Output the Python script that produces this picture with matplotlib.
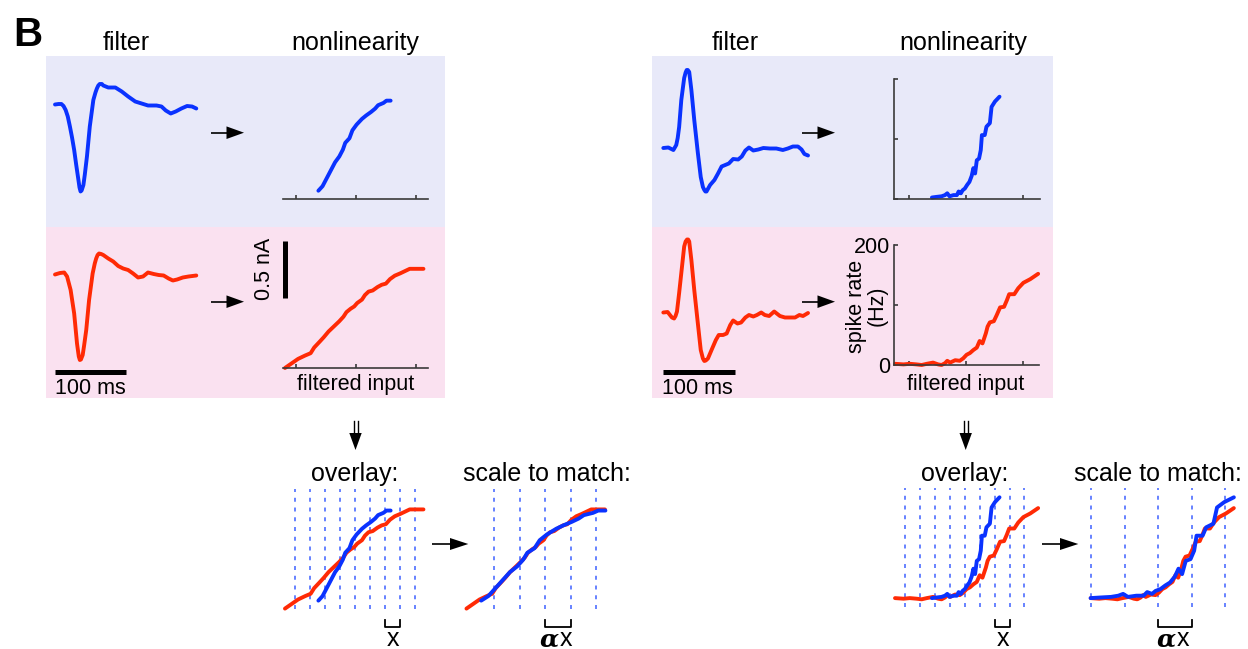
import matplotlib
matplotlib.use("Agg")
import matplotlib.pyplot as plt
from matplotlib.patches import Rectangle

plt.rcParams['font.family'] = ['Liberation Sans', 'DejaVu Sans']

# ---------------- data ----------------
# Left cell: filters (time in ms, amplitude in a.u.)
lb_filter_t = [0, 5, 9, 12, 15, 18, 21, 24, 27, 30, 33, 34.5, 36, 37.5, 40, 42, 45, 49, 54, 57, 59,
               61, 63, 66, 68, 75, 85, 94, 103, 113, 122, 131, 143, 150, 156, 163, 170, 178, 186,
               193, 199]
lb_filter_a = [0.0, 0.05, 0.05, -0.15, -0.55, -1.2, -2.2, -3.3, -4.55, -6.1, -7.55, -8.3, -8.7,
               -8.6, -8.05, -7.0, -5.2, -2.2, 0.45, 1.2, 1.6, 1.9, 2.05, 2.05, 1.9, 1.7, 1.7, 1.3,
               0.8, 0.3, 0.1, -0.1, -0.1, -0.2, -0.6, -0.9, -0.7, -0.4, -0.15, -0.2, -0.4]
lr_filter_t = [0, 7, 13, 17, 22, 27, 31, 33.5, 35, 36.5, 39, 41, 44, 48, 53, 56, 58, 60, 62, 65,
               68, 75, 82, 89, 96, 103, 110, 117, 124, 131, 139, 146, 153, 160, 166, 172, 180,
               188, 199]
lr_filter_a = [0.0, 0.15, 0.2, -0.2, -1.55, -3.9, -6.9, -8.2, -8.55, -8.5, -8.05, -7.1, -5.55,
               -2.55, 0.1, 1.1, 1.6, 1.95, 2.1, 2.05, 1.95, 1.6, 1.3, 0.85, 0.6, 0.45, 0.1, -0.3,
               -0.2, 0.2, 0.05, -0.05, -0.1, -0.4, -0.6, -0.5, -0.3, -0.2, -0.1]
# Right cell: filters
rb_filter_t = [0, 7, 14, 18, 20, 22, 25, 29, 31, 32.5, 34, 36, 39, 43, 48, 52, 55, 57, 58.5, 60,
               65, 71, 76, 81, 86, 91, 97, 104, 109, 114, 119, 125, 132, 139, 148, 157, 166, 173,
               180, 187, 192, 196, 201]
rb_filter_a = [0.0, 0.05, -0.2, 0.3, 1.0, 2.1, 4.8, 7.0, 7.55, 7.8, 7.8, 7.6, 5.8, 2.8, -0.5,
               -2.9, -3.9, -4.2, -4.35, -4.35, -3.7, -3.2, -2.55, -1.85, -1.7, -1.55, -1.1, -1.15,
               -0.85, -0.25, 0.05, -0.25, -0.15, 0.0, -0.05, -0.05, -0.2, -0.05, 0.15, 0.15, -0.15,
               -0.6, -0.75]
rr_filter_t = [0, 6, 12, 15, 17, 19, 22, 26, 29, 31, 33, 34.5, 36, 39, 43, 48, 52, 55, 57, 59,
               62, 67, 73, 77, 83, 88, 93, 97, 103, 108, 114, 119, 125, 130, 136, 141, 147, 154,
               162, 169, 176, 183, 189, 194, 201]
rr_filter_a = [0.05, 0.1, -0.45, -0.55, -0.3, 0.15, 2.0, 4.65, 6.65, 7.15, 7.35, 7.35, 7.15, 5.3,
               2.3, -1.05, -3.7, -4.55, -4.8, -4.75, -4.55, -3.7, -2.7, -2.2, -2.2, -2.05, -1.2,
               -0.75, -1.05, -0.95, -0.45, -0.2, -0.35, -0.2, 0.05, -0.2, -0.3, 0.15, -0.3, -0.45,
               -0.45, -0.45, -0.2, -0.3, 0.0]

# Left cell: nonlinearities (filtered input a.u., current nA)
lnl_blue_u = [-0.63, -0.56, -0.49, -0.42, -0.35, -0.28, -0.22, -0.18, -0.11, -0.06, 0.01, 0.10,
              0.17, 0.25, 0.32, 0.37, 0.46, 0.51, 0.58]
lnl_blue_i = [0.07, 0.11, 0.18, 0.25, 0.32, 0.37, 0.43, 0.49, 0.53, 0.60, 0.65, 0.70, 0.73, 0.76,
              0.79, 0.82, 0.84, 0.86, 0.86]
lnl_red_u = [-1.19, -1.08, -0.97, -0.85, -0.76, -0.70, -0.61, -0.54, -0.46, -0.38, -0.28, -0.21,
             -0.16, -0.09, -0.03, 0.02, 0.10, 0.15, 0.21, 0.28, 0.36, 0.43, 0.50, 0.57, 0.65, 0.74,
             0.82, 0.90, 0.99, 1.13]
lnl_red_i = [0.00, 0.04, 0.08, 0.11, 0.13, 0.18, 0.23, 0.27, 0.32, 0.36, 0.41, 0.45, 0.49, 0.52,
             0.54, 0.57, 0.60, 0.64, 0.67, 0.68, 0.71, 0.73, 0.74, 0.78, 0.81, 0.83, 0.85, 0.87,
             0.87, 0.87]
# Right cell: nonlinearities (filtered input a.u., spike rate Hz)
rnl_blue_u = [-0.60, -0.52, -0.43, -0.37, -0.33, -0.29, -0.22, -0.16, -0.13, -0.09, -0.06, -0.02,
              0.02, 0.06, 0.10, 0.13, 0.16, 0.19, 0.23, 0.26, 0.28, 0.33, 0.36, 0.42, 0.45, 0.51, 0.59]
rnl_blue_r = [2, 3, 4, 6, 9, 4, 6, 6, 12, 9, 14, 17, 23, 28, 38, 51, 42, 64, 67, 81, 106, 106, 120,
              126, 153, 162, 170]
rnl_red_u = [-1.25, -1.10, -0.99, -0.87, -0.78, -0.69, -0.58, -0.49, -0.43, -0.37, -0.33, -0.28,
             -0.19, -0.11, -0.05, 0.01, 0.07, 0.13, 0.19, 0.24, 0.29, 0.35, 0.38, 0.42, 0.49, 0.54,
             0.60, 0.67, 0.72, 0.76, 0.85, 0.92, 1.01, 1.13, 1.27]
rnl_red_r = [2, 1, 2, 1, 0, 2, 4, 1, 0, 3, 7, 4, 8, 7, 11, 17, 20, 25, 29, 40, 36, 53, 64, 71, 73,
             83, 96, 97, 108, 118, 118, 128, 137, 143, 152]

# scale factors used to match blue onto red (input axis: u' = alpha*u + offset)
alpha_left, offset_left = 1.72, 0.14
alpha_right, offset_right = 2.12, 0.02

# dotted reference lines (filtered input units)
ov_grid_left = [-1.02, -0.77, -0.52, -0.27, -0.02, 0.23, 0.48, 0.73, 0.98]
sc_grid_left = [-0.73, -0.30, 0.13, 0.56, 0.98]
ov_grid_right = [-1.07, -0.81, -0.55, -0.28, -0.02, 0.25, 0.51, 0.78, 1.02]
sc_grid_right = [-1.25, -0.65, -0.06, 0.53, 1.11]

nl_ticks = [-1, 0, 1]
rate_ticks = [0, 100, 200]
rate_ticklabels = ['0', '', '200']
time_bar_ms = 100
current_bar_na = 0.5

# ---------------- styling ----------------
BLUE = '#0A32FF'
RED = '#FF2A05'
BG_BLUE = '#E8E9F9'
BG_PINK = '#FAE1F0'
AXC = '#3a3a3a'
GRIDC = '#5a78ff'
W, H = 1248, 649

fig = plt.figure(figsize=(W / 100, H / 100), dpi=100)
lay = fig.add_axes([0, 0, 1, 1])
lay.set_xlim(0, W)
lay.set_ylim(H, 0)
lay.axis('off')

for x0, x1 in [(46, 445), (652, 1053)]:
    lay.add_patch(Rectangle((x0, 56), x1 - x0, 171, color=BG_BLUE, lw=0))
    lay.add_patch(Rectangle((x0, 227), x1 - x0, 171, color=BG_PINK, lw=0))


def data_axes(l, t, r, b, x0px, xs, y0px, ys):
    ax = fig.add_axes([l / W, 1 - b / H, (r - l) / W, (b - t) / H])
    ax.set_xlim((l - x0px) / xs, (r - x0px) / xs)
    ax.set_ylim((y0px - b) / ys, (y0px - t) / ys)
    ax.patch.set_visible(False)
    for s in ax.spines.values():
        s.set_visible(False)
    ax.set_xticks([])
    ax.set_yticks([])
    ax._map = (x0px, xs, y0px, ys)
    return ax


def py2d(ax, py):
    x0px, xs, y0px, ys = ax._map
    return (y0px - py) / ys


def px2d(ax, px):
    x0px, xs, y0px, ys = ax._map
    return (px - x0px) / xs


LW = 2.8
LKW = dict(lw=LW, solid_joinstyle='round', solid_capstyle='round', clip_on=False)

# ---- filters ----
f_lt = data_axes(48, 62, 205, 200, 55, 0.71, 104.5, 10)
f_lb = data_axes(48, 232, 205, 380, 55, 0.71, 274.5, 10)
f_rt = data_axes(655, 62, 812, 200, 663.3, 0.72, 148, 10)
f_rb = data_axes(655, 232, 812, 380, 663.3, 0.72, 313, 10)
f_lt.plot(lb_filter_t, lb_filter_a, color=BLUE, **LKW)
f_lb.plot(lr_filter_t, lr_filter_a, color=RED, **LKW)
f_rt.plot(rb_filter_t, rb_filter_a, color=BLUE, **LKW)
f_rb.plot(rr_filter_t, rr_filter_a, color=RED, **LKW)
for ax, cx in [(f_lb, 90), (f_rb, 697.5)]:
    yb = py2d(ax, 371.7)
    ax.plot([0, time_bar_ms], [yb, yb], color='black', lw=3.6, solid_capstyle='butt', clip_on=False)
    lay.text(cx, 394, '100 ms', ha='center', va='baseline', fontsize=15.5)

# ---- nonlinearities ----
def style_nl(ax, left=False):
    ax.spines['bottom'].set_visible(True)
    ax.spines['bottom'].set_color(AXC)
    ax.spines['bottom'].set_linewidth(1.2)
    ax.set_xticks(nl_ticks)
    ax.tick_params(axis='x', direction='in', length=3, width=1.2, color=AXC, labelbottom=False)
    if left:
        ax.spines['left'].set_visible(True)
        ax.spines['left'].set_color(AXC)
        ax.spines['left'].set_linewidth(1.2)
        ax.set_yticks(rate_ticks)
        ax.tick_params(axis='y', direction='in', length=3, width=1.2, color=AXC, labelleft=False)


n_lt = data_axes(283.3, 90, 427.7, 198.7, 356, 59.7, 198.7, 114)
n_lb = data_axes(283.3, 232, 427.7, 368, 356, 59.7, 368, 114)
n_rt = data_axes(894, 78.7, 1040, 198.7, 966, 56.8, 198.7, 0.6)
n_rb = data_axes(894, 245, 1038.5, 365, 966, 56.8, 365, 0.6)
style_nl(n_lt)
style_nl(n_lb)
style_nl(n_rt, left=True)
style_nl(n_rb, left=True)
n_rb.tick_params(axis='y', labelleft=True, labelsize=15.5, pad=3)
n_rb.set_yticklabels(rate_ticklabels)

n_lt.plot(lnl_blue_u, lnl_blue_i, color=BLUE, **LKW)
n_lb.plot(lnl_red_u, lnl_red_i, color=RED, **LKW)
n_rt.plot(rnl_blue_u, rnl_blue_r, color=BLUE, **LKW)
n_rb.plot(rnl_red_u, rnl_red_r, color=RED, **LKW)

bu = px2d(n_lb, 284.8)
n_lb.plot([bu, bu], [0.61, 0.61 + current_bar_na], color='black', lw=3.6,
          solid_capstyle='butt', clip_on=False)
lay.text(265, 269, '0.5 nA', rotation=90, ha='center', va='center', fontsize=15.5)
lay.text(867, 306, 'spike rate\n(Hz)', rotation=90, ha='center', va='center',
         multialignment='center', fontsize=15.5, linespacing=1.0)
for cx in (356, 966):
    lay.text(cx, 390, 'filtered input', ha='center', va='baseline', fontsize=15.5)

# ---- overlay & scaled ----
o_l = data_axes(278, 480, 432, 615, 356, 59.7, 608.6, 114)
s_l = data_axes(460, 480, 615, 615, 537.5, 59.7, 608.6, 114)
o_r = data_axes(888, 480, 1045, 612, 966, 56.8, 599.3, 0.6)
s_r = data_axes(1085, 480, 1245, 612, 1161.7, 56.8, 599.3, 0.6)

gkw = dict(colors=GRIDC, linestyles=(0, (2.2, 3.2)), lw=1.3)
for ax, grid in [(o_l, ov_grid_left), (s_l, sc_grid_left)]:
    ax.vlines(grid, py2d(ax, 609.3), py2d(ax, 489.3), **gkw)
for ax, grid in [(o_r, ov_grid_right), (s_r, sc_grid_right)]:
    ax.vlines(grid, py2d(ax, 607.3), py2d(ax, 488.0), **gkw)

o_l.plot(lnl_red_u, lnl_red_i, color=RED, **LKW)
o_l.plot(lnl_blue_u, lnl_blue_i, color=BLUE, **LKW)
s_l.plot(lnl_red_u, lnl_red_i, color=RED, **LKW)
s_l.plot([alpha_left * u + offset_left for u in lnl_blue_u], lnl_blue_i, color=BLUE, **LKW)
o_r.plot(rnl_red_u, rnl_red_r, color=RED, **LKW)
o_r.plot(rnl_blue_u, rnl_blue_r, color=BLUE, **LKW)
s_r.plot(rnl_red_u, rnl_red_r, color=RED, **LKW)
s_r.plot([alpha_right * u + offset_right for u in rnl_blue_u], rnl_blue_r, color=BLUE, **LKW)

# brackets
def bracket(ax, g0, g1):
    yt, yb = py2d(ax, 620), py2d(ax, 626.7)
    ax.plot([g0, g0, g1, g1], [yt, yb, yb, yt], color='black', lw=1.3, clip_on=False)


bracket(o_l, ov_grid_left[6], ov_grid_left[7])
bracket(s_l, sc_grid_left[2], sc_grid_left[3])
bracket(o_r, ov_grid_right[6], ov_grid_right[7])
bracket(s_r, sc_grid_right[2], sc_grid_right[3])

lay.text(392.5, 646, 'x', ha='center', va='baseline', fontsize=18)
lay.text(1002.5, 646, 'x', ha='center', va='baseline', fontsize=18)
lay.text(559, 646, 'α', ha='right', va='baseline', fontsize=18, fontweight='bold',
         fontstyle='italic', family='DejaVu Serif')
lay.text(559.5, 646, 'x', ha='left', va='baseline', fontsize=18)
lay.text(1176, 646, 'α', ha='right', va='baseline', fontsize=18, fontweight='bold',
         fontstyle='italic', family='DejaVu Serif')
lay.text(1176.5, 646, 'x', ha='left', va='baseline', fontsize=18)

# ---- titles ----
lay.text(27.5, 46, 'B', ha='center', va='baseline', fontsize=29, fontweight='bold')
for cx, s in [(126, 'filter'), (355, 'nonlinearity'), (735, 'filter'), (963, 'nonlinearity')]:
    lay.text(cx, 50, s, ha='center', va='baseline', fontsize=18)
for cx, s in [(355, 'overlay:'), (547, 'scale to match:'), (965, 'overlay:'), (1157.5, 'scale to match:')]:
    lay.text(cx, 481, s, ha='center', va='baseline', fontsize=18)

# ---- arrows ----
def harrow(x0, x1, y, head=17.5, half=6.3):
    lay.plot([x0, x1 - head + 1], [y, y], color='black', lw=1.2, solid_capstyle='butt')
    lay.fill([x1 - head, x1, x1 - head], [y - half, y, y + half], color='black', lw=0)


for x0, x1, y in [(210.7, 244, 132.7), (210.7, 244, 301.7), (801.7, 835, 132.7),
                  (801.7, 835, 301.7)]:
    harrow(x0, x1, y)
for x0, x1, y in [(432.3, 468.3, 544), (1042.3, 1078.3, 544)]:
    harrow(x0, x1, y, head=18.3, half=6.0)

for c in (355.5, 965.7):
    for dx in (-2.0, 2.0):
        lay.plot([c + dx, c + dx], [421, 436], color='black', lw=1.0)
    lay.fill([c - 6.2, c + 6.2, c], [433, 433, 450], color='black', lw=0)

fig.savefig('out.png', dpi=100)
